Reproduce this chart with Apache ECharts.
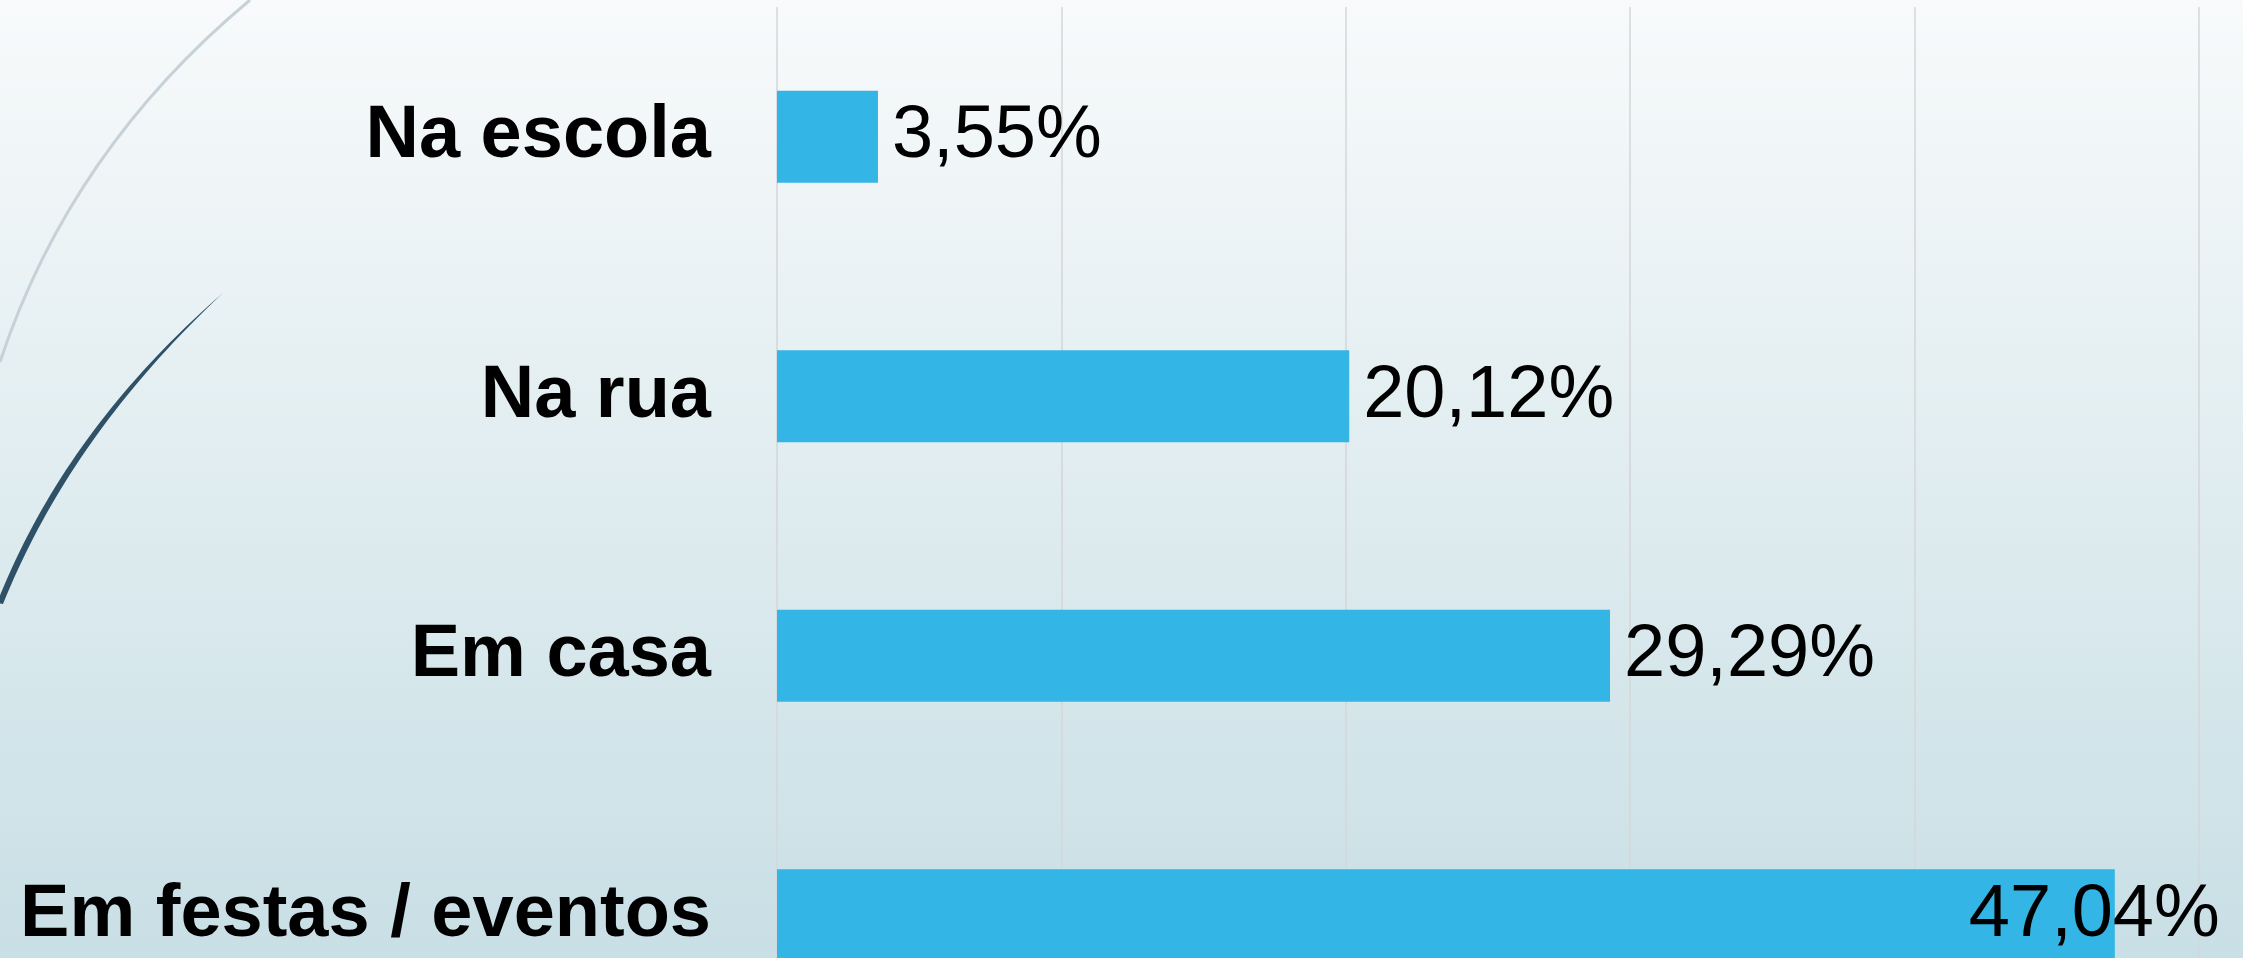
<!DOCTYPE html>
<html>
<head>
<meta charset="utf-8">
<script src="https://cdn.jsdelivr.net/npm/echarts@6/dist/echarts.min.js"></script>
<style>
  html, body { margin: 0; padding: 0; }
  #main { width: 2243px; height: 958px; }
</style>
</head>
<body>
<div id="main"></div>
<script>
// categories top to bottom, with their shares in percent
const categories = ['Na escola', 'Na rua', 'Em casa', 'Em festas / eventos'];
const shares = [3.55, 20.12, 29.29, 47.04];

const chart = echarts.init(document.getElementById('main'));

const fmt = (v) => v.toFixed(2).replace('.', ',') + '%';

// tapered swoosh: two quadratic curves joined into one sliver
function quad(p0, c, p1, n) {
  const pts = [];
  for (let i = 0; i <= n; i++) {
    const t = i / n, u = 1 - t;
    pts.push([u * u * p0[0] + 2 * u * t * c[0] + t * t * p1[0],
              u * u * p0[1] + 2 * u * t * c[1] + t * t * p1[1]]);
  }
  return pts;
}
const swoosh = quad([-3, 603], [65, 430], [223, 293], 40)
  .concat(quad([223, 293], [71, 435], [3, 604], 40));

const option = {
  backgroundColor: new echarts.graphic.LinearGradient(0, 0, 0, 1, [
    { offset: 0, color: '#f8fafb' },
    { offset: 1, color: '#c8dfe5' }
  ]),
  textStyle: { fontFamily: 'Liberation Sans, Arial, sans-serif' },
  graphic: [
    {
      type: 'bezierCurve',
      shape: { x1: 0, y1: 362, x2: 250, y2: 0, cpx1: 70, cpy1: 150 },
      style: { stroke: '#c6d2d8', lineWidth: 3, fill: null }
    },
    {
      type: 'polygon',
      shape: { points: swoosh },
      style: { fill: '#2e5168' }
    }
  ],
  grid: { left: 777, top: 7, width: 1422, height: 1038, outerBoundsMode: 'none' },
  xAxis: {
    type: 'value',
    min: 0,
    max: 50,
    interval: 10,
    axisLabel: { show: false },
    axisLine: { show: false },
    axisTick: { show: false },
    splitLine: { lineStyle: { color: '#d4d6d8', width: 1.5 } }
  },
  yAxis: {
    type: 'category',
    inverse: true,
    data: categories,
    axisLine: { show: false },
    axisTick: { show: false },
    axisLabel: {
      fontSize: 74,
      fontWeight: 'bold',
      color: '#000',
      margin: 66
    }
  },
  series: [
    {
      type: 'bar',
      barWidth: '35.5%',
      itemStyle: { color: '#33b5e5' },
      label: {
        show: true,
        position: 'right',
        distance: 14,
        fontSize: 74,
        color: '#000',
        formatter: (p) => fmt(p.value)
      },
      // last label is pulled back so it stays inside the picture
      data: shares.map((v, i) =>
        i === shares.length - 1 ? { value: v, label: { offset: [-160, 0] } } : v
      )
    }
  ]
};

chart.setOption(option);
</script>
</body>
</html>
